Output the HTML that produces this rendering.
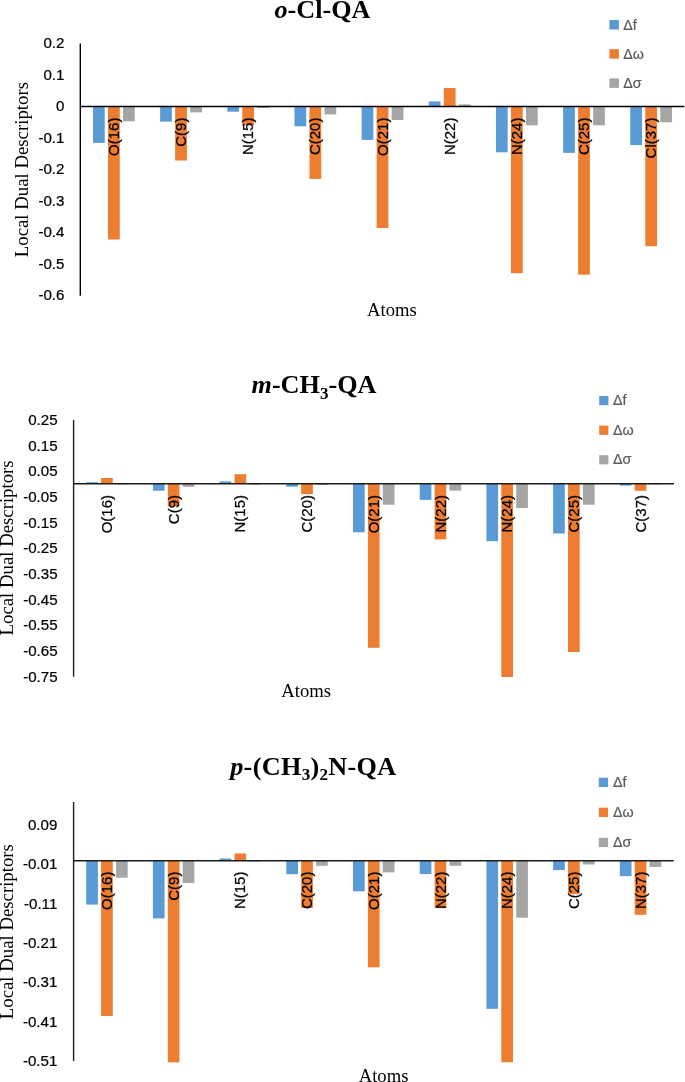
<!DOCTYPE html>
<html lang="en">
<head>
<meta charset="utf-8">
<title>Local Dual Descriptors</title>
<style>
html,body{margin:0;padding:0;background:#fff;}
body{width:685px;height:1082px;overflow:hidden;}
svg{display:block;}
.tick{font-family:"Liberation Sans", "DejaVu Sans", sans-serif;font-size:15.1px;fill:#000;text-anchor:end;stroke:#000;stroke-width:0.22px;}
.cat{font-family:"Liberation Sans", "DejaVu Sans", sans-serif;font-size:15.0px;fill:#000;text-anchor:end;stroke:#000;stroke-width:0.22px;}
.leg{font-family:"Liberation Sans", "DejaVu Sans", sans-serif;font-size:14.3px;fill:#595959;stroke:#595959;stroke-width:0.2px;}
.ax{font-family:"Liberation Serif", "DejaVu Serif", serif;font-size:18.67px;fill:#000;}
.ttl{font-family:"Liberation Serif", "DejaVu Serif", serif;font-size:26.2px;font-weight:bold;fill:#000;}
.ttl .it{font-style:italic;}
.ttl .sub{font-size:17.03px;}
</style>
</head>
<body>
<svg width="685" height="1082" viewBox="0 0 685 1082">
<rect x="0" y="0" width="685" height="1082" fill="#ffffff"/>
<g id="chart1">
<g fill="#5B9BD5">
<rect x="92.99" y="106.5" width="11.75" height="36.4"/>
<rect x="160.15" y="106.5" width="11.75" height="15.1"/>
<rect x="227.31" y="106.5" width="11.75" height="5.2"/>
<rect x="294.47" y="106.5" width="11.75" height="19.8"/>
<rect x="361.63" y="106.5" width="11.75" height="33.4"/>
<rect x="428.79" y="101.4" width="11.75" height="5.1"/>
<rect x="495.95" y="106.5" width="11.75" height="45.8"/>
<rect x="563.11" y="106.5" width="11.75" height="46.4"/>
<rect x="630.27" y="106.5" width="11.75" height="38.6"/>
</g>
<g fill="#ED7D31">
<rect x="108" y="106.5" width="11.75" height="133"/>
<rect x="175.16" y="106.5" width="11.75" height="54"/>
<rect x="242.32" y="106.5" width="11.75" height="18.9"/>
<rect x="309.48" y="106.5" width="11.75" height="72.4"/>
<rect x="376.64" y="106.5" width="11.75" height="121.5"/>
<rect x="443.8" y="88" width="11.75" height="18.5"/>
<rect x="510.96" y="106.5" width="11.75" height="166.7"/>
<rect x="578.12" y="106.5" width="11.75" height="168.2"/>
<rect x="645.28" y="106.5" width="11.75" height="139.7"/>
</g>
<g fill="#A5A5A5">
<rect x="123.01" y="106.5" width="11.75" height="14.8"/>
<rect x="190.17" y="106.5" width="11.75" height="5.9"/>
<rect x="257.33" y="106.5" width="11.75" height="1.5"/>
<rect x="324.49" y="106.5" width="11.75" height="7.9"/>
<rect x="391.65" y="106.5" width="11.75" height="13.5"/>
<rect x="458.81" y="104.4" width="11.75" height="2.1"/>
<rect x="525.97" y="106.5" width="11.75" height="18.8"/>
<rect x="593.13" y="106.5" width="11.75" height="18.8"/>
<rect x="660.29" y="106.5" width="11.75" height="15.8"/>
</g>
<line x1="80.3" y1="43.6" x2="80.3" y2="295.7" stroke="#000" stroke-width="1.4"/>
<line x1="80.3" y1="106.5" x2="684.3" y2="106.5" stroke="#000" stroke-width="1.4"/>
<text class="tick" x="64.4" y="48.21">0.2</text>
<text class="tick" x="64.4" y="79.71">0.1</text>
<text class="tick" x="64.4" y="111.21">0</text>
<text class="tick" x="64.4" y="142.71">-0.1</text>
<text class="tick" x="64.4" y="174.21">-0.2</text>
<text class="tick" x="64.4" y="205.71">-0.3</text>
<text class="tick" x="64.4" y="237.21">-0.4</text>
<text class="tick" x="64.4" y="268.71">-0.5</text>
<text class="tick" x="64.4" y="300.21">-0.6</text>
<text class="cat" transform="translate(119 117.6) rotate(-90)">O(16)</text>
<text class="cat" transform="translate(186.16 117.6) rotate(-90)">C(9)</text>
<text class="cat" transform="translate(253.32 117.6) rotate(-90)">N(15)</text>
<text class="cat" transform="translate(320.48 117.6) rotate(-90)">C(20)</text>
<text class="cat" transform="translate(387.64 117.6) rotate(-90)">O(21)</text>
<text class="cat" transform="translate(454.8 117.6) rotate(-90)">N(22)</text>
<text class="cat" transform="translate(521.96 117.6) rotate(-90)">N(24)</text>
<text class="cat" transform="translate(589.12 117.6) rotate(-90)">C(25)</text>
<text class="cat" transform="translate(656.28 117.6) rotate(-90)">Cl(37)</text>
<text class="ttl" x="274.5" y="17.9"><tspan class="it">o</tspan>-Cl-QA</text>
<text class="ax" style="font-size:18.78px" text-anchor="middle" transform="translate(28.3 169.6) rotate(-90)">Local Dual Descriptors</text>
<text class="ax" text-anchor="middle" x="391.95" y="315.8">Atoms</text>
<rect x="609.4" y="20" width="9.5" height="9.5" fill="#5B9BD5"/>
<text class="leg" x="623.2" y="29.5">Δf</text>
<rect x="609.4" y="49.2" width="9.5" height="9.5" fill="#ED7D31"/>
<text class="leg" x="623.2" y="58.7">Δω</text>
<rect x="609.4" y="78.4" width="9.5" height="9.5" fill="#A5A5A5"/>
<text class="leg" x="623.2" y="87.9">Δσ</text>
</g>
<g id="chart2">
<g fill="#5B9BD5">
<rect x="86.21" y="482.2" width="11.67" height="1.55"/>
<rect x="152.91" y="483.75" width="11.67" height="6.95"/>
<rect x="219.61" y="481.4" width="11.67" height="2.35"/>
<rect x="286.31" y="483.75" width="11.67" height="2.95"/>
<rect x="353.01" y="483.75" width="11.67" height="48.55"/>
<rect x="419.71" y="483.75" width="11.67" height="16.15"/>
<rect x="486.41" y="483.75" width="11.67" height="57.45"/>
<rect x="553.11" y="483.75" width="11.67" height="49.75"/>
<rect x="619.81" y="483.75" width="11.67" height="1.85"/>
</g>
<g fill="#ED7D31">
<rect x="101.11" y="478" width="11.67" height="5.75"/>
<rect x="167.81" y="483.75" width="11.67" height="22.75"/>
<rect x="234.51" y="474.2" width="11.67" height="9.55"/>
<rect x="301.21" y="483.75" width="11.67" height="10.35"/>
<rect x="367.91" y="483.75" width="11.67" height="164.05"/>
<rect x="434.61" y="483.75" width="11.67" height="55.65"/>
<rect x="501.31" y="483.75" width="11.67" height="193.25"/>
<rect x="568.01" y="483.75" width="11.67" height="168.25"/>
<rect x="634.71" y="483.75" width="11.67" height="7.05"/>
</g>
<g fill="#A5A5A5">
<rect x="116.02" y="483.75" width="11.67" height="0.65"/>
<rect x="182.72" y="483.75" width="11.67" height="3.05"/>
<rect x="249.42" y="483.75" width="11.67" height="0.85"/>
<rect x="316.12" y="483.75" width="11.67" height="1.15"/>
<rect x="382.82" y="483.75" width="11.67" height="20.95"/>
<rect x="449.52" y="483.75" width="11.67" height="6.95"/>
<rect x="516.22" y="483.75" width="11.67" height="24.25"/>
<rect x="582.92" y="483.75" width="11.67" height="20.95"/>
<rect x="649.62" y="483.75" width="11.67" height="0.65"/>
</g>
<line x1="73.6" y1="419.9" x2="73.6" y2="676.8" stroke="#1c1c1c" stroke-width="1.4"/>
<line x1="73.6" y1="483.75" x2="673.9" y2="483.75" stroke="#1c1c1c" stroke-width="1.4"/>
<text class="tick" x="57.6" y="424.81">0.25</text>
<text class="tick" x="57.6" y="450.5">0.15</text>
<text class="tick" x="57.6" y="476.19">0.05</text>
<text class="tick" x="57.6" y="501.88">-0.05</text>
<text class="tick" x="57.6" y="527.57">-0.15</text>
<text class="tick" x="57.6" y="553.26">-0.25</text>
<text class="tick" x="57.6" y="578.95">-0.35</text>
<text class="tick" x="57.6" y="604.64">-0.45</text>
<text class="tick" x="57.6" y="630.33">-0.55</text>
<text class="tick" x="57.6" y="656.02">-0.65</text>
<text class="tick" x="57.6" y="681.71">-0.75</text>
<text class="cat" transform="translate(112.07 495) rotate(-90)">O(16)</text>
<text class="cat" transform="translate(178.77 495) rotate(-90)">C(9)</text>
<text class="cat" transform="translate(245.47 495) rotate(-90)">N(15)</text>
<text class="cat" transform="translate(312.17 495) rotate(-90)">C(20)</text>
<text class="cat" transform="translate(378.87 495) rotate(-90)">O(21)</text>
<text class="cat" transform="translate(445.57 495) rotate(-90)">N(22)</text>
<text class="cat" transform="translate(512.27 495) rotate(-90)">N(24)</text>
<text class="cat" transform="translate(578.97 495) rotate(-90)">C(25)</text>
<text class="cat" transform="translate(645.67 495) rotate(-90)">C(37)</text>
<text class="ttl" x="251.5" y="393.3"><tspan class="it">m</tspan>-CH<tspan class="sub" dy="5.24">3</tspan><tspan dy="-5.24">-QA</tspan></text>
<text class="ax" style="font-size:18.78px" text-anchor="middle" transform="translate(13.25 547.9) rotate(-90)">Local Dual Descriptors</text>
<text class="ax" text-anchor="middle" x="306.15" y="697.2">Atoms</text>
<rect x="599.2" y="396" width="9.2" height="9.2" fill="#5B9BD5"/>
<text class="leg" x="613" y="405.2">Δf</text>
<rect x="599.2" y="425.6" width="9.2" height="9.2" fill="#ED7D31"/>
<text class="leg" x="613" y="434.8">Δω</text>
<rect x="599.2" y="455.2" width="9.2" height="9.2" fill="#A5A5A5"/>
<text class="leg" x="613" y="464.4">Δσ</text>
</g>
<g id="chart3">
<g fill="#5B9BD5">
<rect x="86.21" y="860.8" width="11.67" height="43.8"/>
<rect x="152.91" y="860.8" width="11.67" height="57.6"/>
<rect x="219.61" y="858.5" width="11.67" height="2.3"/>
<rect x="286.31" y="860.8" width="11.67" height="13.4"/>
<rect x="353.01" y="860.8" width="11.67" height="30.5"/>
<rect x="419.71" y="860.8" width="11.67" height="13.3"/>
<rect x="486.41" y="860.8" width="11.67" height="148"/>
<rect x="553.11" y="860.8" width="11.67" height="9.3"/>
<rect x="619.81" y="860.8" width="11.67" height="15.4"/>
</g>
<g fill="#ED7D31">
<rect x="101.11" y="860.8" width="11.67" height="155.2"/>
<rect x="167.81" y="860.8" width="11.67" height="201.5"/>
<rect x="234.51" y="853.5" width="11.67" height="7.3"/>
<rect x="301.21" y="860.8" width="11.67" height="47.2"/>
<rect x="367.91" y="860.8" width="11.67" height="106.5"/>
<rect x="434.61" y="860.8" width="11.67" height="47.3"/>
<rect x="501.31" y="860.8" width="11.67" height="201.5"/>
<rect x="568.01" y="860.8" width="11.67" height="33.3"/>
<rect x="634.71" y="860.8" width="11.67" height="54"/>
</g>
<g fill="#A5A5A5">
<rect x="116.02" y="860.8" width="11.67" height="16.9"/>
<rect x="182.72" y="860.8" width="11.67" height="22.1"/>
<rect x="249.42" y="860.8" width="11.67" height="0.7"/>
<rect x="316.12" y="860.8" width="11.67" height="5"/>
<rect x="382.82" y="860.8" width="11.67" height="11.6"/>
<rect x="449.52" y="860.8" width="11.67" height="5"/>
<rect x="516.22" y="860.8" width="11.67" height="56.9"/>
<rect x="582.92" y="860.8" width="11.67" height="3.7"/>
<rect x="649.62" y="860.8" width="11.67" height="6.1"/>
</g>
<line x1="73.6" y1="801.9" x2="73.6" y2="1061" stroke="#1c1c1c" stroke-width="1.4"/>
<line x1="73.6" y1="860.8" x2="673.7" y2="860.8" stroke="#1c1c1c" stroke-width="1.4"/>
<text class="tick" x="57.3" y="830.11">0.09</text>
<text class="tick" x="57.3" y="869.41">-0.01</text>
<text class="tick" x="57.3" y="908.71">-0.11</text>
<text class="tick" x="57.3" y="948.01">-0.21</text>
<text class="tick" x="57.3" y="987.31">-0.31</text>
<text class="tick" x="57.3" y="1026.61">-0.41</text>
<text class="tick" x="57.3" y="1065.91">-0.51</text>
<text class="cat" transform="translate(112.07 871.6) rotate(-90)">O(16)</text>
<text class="cat" transform="translate(178.77 871.6) rotate(-90)">C(9)</text>
<text class="cat" transform="translate(245.47 871.6) rotate(-90)">N(15)</text>
<text class="cat" transform="translate(312.17 871.6) rotate(-90)">C(20)</text>
<text class="cat" transform="translate(378.87 871.6) rotate(-90)">O(21)</text>
<text class="cat" transform="translate(445.57 871.6) rotate(-90)">N(22)</text>
<text class="cat" transform="translate(512.27 871.6) rotate(-90)">N(24)</text>
<text class="cat" transform="translate(578.97 871.6) rotate(-90)">C(25)</text>
<text class="cat" transform="translate(645.67 871.6) rotate(-90)">N(37)</text>
<text class="ttl" x="230.2" y="774.5" letter-spacing="0.32"><tspan class="it">p</tspan>-(CH<tspan class="sub" dy="5.24">3</tspan><tspan dy="-5.24">)</tspan><tspan class="sub" dy="5.24">2</tspan><tspan dy="-5.24">N-QA</tspan></text>
<text class="ax" style="font-size:18.78px" text-anchor="middle" transform="translate(13.25 931.65) rotate(-90)">Local Dual Descriptors</text>
<text class="ax" text-anchor="middle" x="383.55" y="1081.6">Atoms</text>
<rect x="598.8" y="777.7" width="9.3" height="9.3" fill="#5B9BD5"/>
<text class="leg" x="613" y="787">Δf</text>
<rect x="598.8" y="807.7" width="9.3" height="9.3" fill="#ED7D31"/>
<text class="leg" x="613" y="817">Δω</text>
<rect x="598.8" y="837.8" width="9.3" height="9.3" fill="#A5A5A5"/>
<text class="leg" x="613" y="847.1">Δσ</text>
</g>
</svg>
</body>
</html>
